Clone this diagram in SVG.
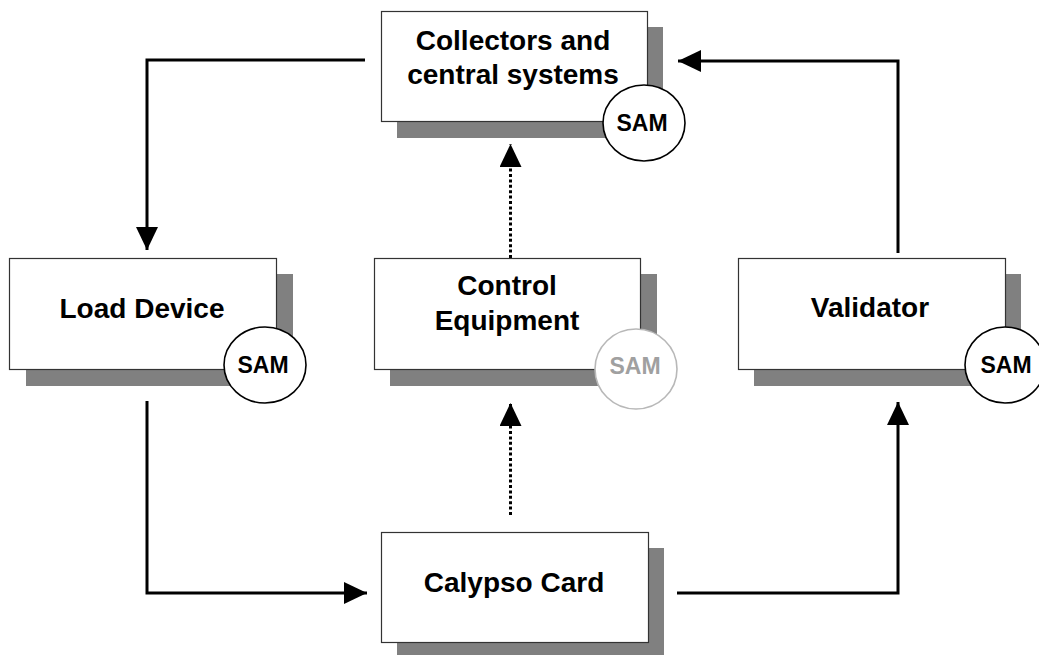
<svg xmlns="http://www.w3.org/2000/svg" width="1039" height="655" viewBox="0 0 1039 655">
<style>
.bg{fill:#ffffff}
.shadow{fill:#808080}
.box{fill:#ffffff;stroke:#333333;stroke-width:1.2}
.label{font-family:"Liberation Sans",Arial,sans-serif;font-weight:bold;font-size:28px;fill:#000000;text-anchor:middle}
.sam{fill:#ffffff;stroke:#000000;stroke-width:1.6}
.samtext{font-family:"Liberation Sans",Arial,sans-serif;font-weight:bold;font-size:23px;fill:#000000;text-anchor:middle}
.samdim{fill:#ffffff;stroke:#b8b8b8;stroke-width:1.6}
.samdimtext{font-family:"Liberation Sans",Arial,sans-serif;font-weight:bold;font-size:23px;fill:#a0a0a0;text-anchor:middle}
.conn{fill:none;stroke:#000000;stroke-width:3;marker-end:url(#arrow)}
.dotted{stroke-dasharray:3 2.4}
</style>
<defs>
<marker id="arrow" markerUnits="userSpaceOnUse" markerWidth="23" markerHeight="22" refX="23" refY="11" orient="auto">
<path d="M0,0 L23,11 L0,22 Z" fill="#000000"/>
</marker>
</defs>
<rect class="bg" x="0" y="0" width="1039" height="655"/>

<g id="connectors">
<path class="conn" d="M365,60 H147 V250"/>
<path class="conn" d="M147,401 V593 H367"/>
<path class="conn" d="M677,593 H898 V402"/>
<path class="conn" d="M898,253 V61 H678"/>
<path class="conn dotted" d="M510.5,258 V144"/>
<path class="conn dotted" d="M510.5,515 V403"/>
</g>

<g id="collectors">
<rect class="shadow" x="397" y="27" width="266" height="111"/>
<rect class="box" x="381.5" y="11.5" width="266" height="110"/>
<text class="label" x="513" y="50">Collectors and</text>
<text class="label" x="513" y="84">central systems</text>
<ellipse class="sam" cx="644" cy="123" rx="41" ry="38"/>
<text class="samtext" x="642" y="131">SAM</text>
</g>

<g id="load-device">
<rect class="shadow" x="26" y="274" width="267" height="112"/>
<rect class="box" x="9.5" y="258.5" width="267" height="111"/>
<text class="label" x="142" y="318">Load Device</text>
<ellipse class="sam" cx="265" cy="365" rx="41" ry="38"/>
<text class="samtext" x="263" y="373">SAM</text>
</g>

<g id="control-equipment">
<rect class="shadow" x="390" y="274" width="267" height="112"/>
<rect class="box" x="374.5" y="258.5" width="266" height="111"/>
<text class="label" x="507" y="295">Control</text>
<text class="label" x="507" y="330">Equipment</text>
<ellipse class="samdim" cx="636" cy="369" rx="41" ry="40"/>
<text class="samdimtext" x="635" y="374">SAM</text>
</g>

<g id="validator">
<rect class="shadow" x="754" y="274" width="267" height="112"/>
<rect class="box" x="738.5" y="258.5" width="267" height="111"/>
<text class="label" x="870" y="317">Validator</text>
<ellipse class="sam" cx="1005" cy="365" rx="40" ry="38"/>
<text class="samtext" x="1006" y="373">SAM</text>
</g>

<g id="calypso-card">
<rect class="shadow" x="397" y="548" width="267" height="107"/>
<rect class="box" x="381.5" y="532.5" width="267" height="110"/>
<text class="label" x="514" y="592">Calypso Card</text>
</g>
</svg>
